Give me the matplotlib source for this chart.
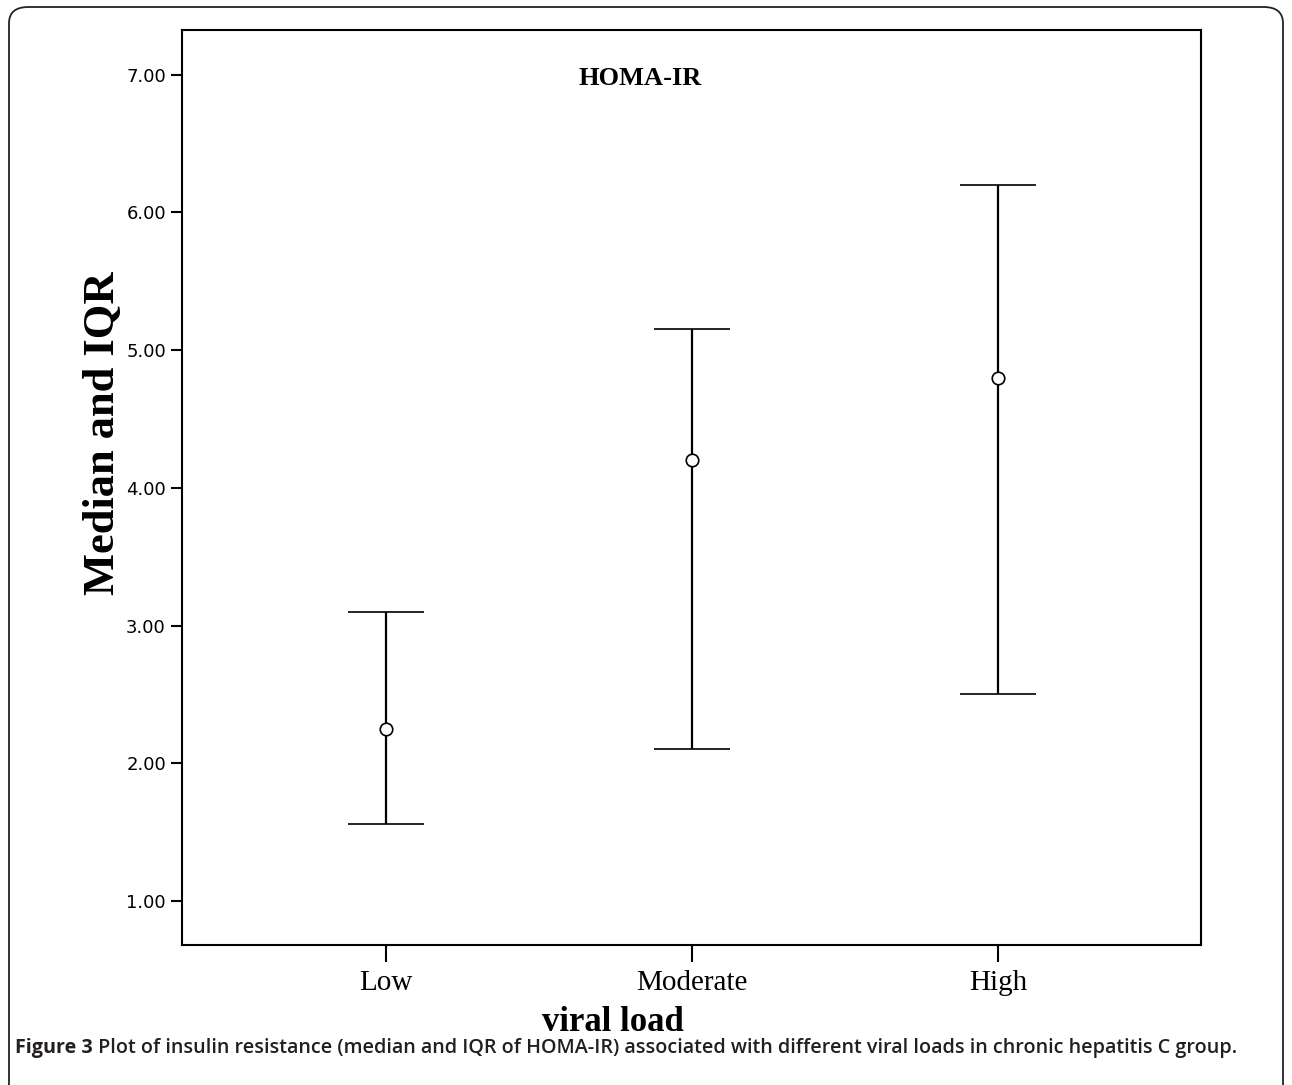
import matplotlib
matplotlib.use("Agg")
import matplotlib.pyplot as plt
from matplotlib.patches import FancyBboxPatch

# HOMA-IR by viral load: median and IQR
categories = ["Low", "Moderate", "High"]
q1 = [1.56, 2.10, 2.50]
median = [2.25, 4.20, 4.80]
q3 = [3.10, 5.15, 6.20]
yticks = [1, 2, 3, 4, 5, 6, 7]

serif = "Liberation Serif"

fig = plt.figure(figsize=(12.92, 10.85), dpi=100)

# rounded frame around the whole figure
frame = FancyBboxPatch((9 / 1292, -0.05), 1274 / 1292, 1.05 - 7 / 1085,
                       boxstyle="round,pad=0,rounding_size=0.015",
                       transform=fig.transFigure, fill=False,
                       ec="#222222", lw=1.3)
fig.patches.append(frame)

ax = fig.add_axes([182 / 1292, 1 - 945 / 1085, 1019 / 1292, 915 / 1085])

x = list(range(1, len(categories) + 1))
err_lo = [m - a for m, a in zip(median, q1)]
err_hi = [b - m for m, b in zip(median, q3)]
ax.errorbar(x, median, yerr=[err_lo, err_hi], fmt="o", color="black",
            ms=9, mfc="white", mec="black", mew=1.2,
            elinewidth=1.6, capsize=27.5, capthick=1.6)

ax.set_xlim(0.333, 3.663)
ax.set_ylim(0.68, 7.325)
ax.set_xticks(x)
ax.set_xticklabels(categories, family=serif, fontsize=21)
ax.set_yticks(yticks)
ax.set_yticklabels([f"{v:.2f}" for v in yticks], family="DejaVu Sans", fontsize=13)
ax.tick_params(axis="y", length=8, width=1.5, pad=3.6)
ax.tick_params(axis="x", length=12, width=1.5, pad=6)
for s in ax.spines.values():
    s.set_linewidth(1.5)

ax.text(0.45, 0.947, "HOMA-IR", transform=ax.transAxes, ha="center",
        va="center", family=serif, fontweight="bold", fontsize=19)

fig.text(103 / 1292, 1 - 433 / 1085, "Median and IQR", rotation=90,
         ha="center", va="center", family=serif, fontweight="bold", fontsize=32)

fig.text(613 / 1292, 1 - 1031 / 1085, "viral load", ha="center",
         va="baseline", family=serif, fontweight="bold", fontsize=25)

cap1 = fig.text(15 / 1292, 1 - 1053 / 1085, "Figure 3", family="Open Sans",
                fontweight="bold", fontsize=14.2, color="#231f20", va="baseline")
fig.canvas.draw()
plt.annotate(" Plot of insulin resistance (median and IQR of HOMA-IR) associated "
             "with different viral loads in chronic hepatitis C group.",
             xy=(1, 0), xycoords=cap1, va="bottom", ha="left",
             family="Open Sans", fontweight="semibold", fontsize=14.2,
             color="#231f20", annotation_clip=False)

fig.savefig("out.png", dpi=100)
